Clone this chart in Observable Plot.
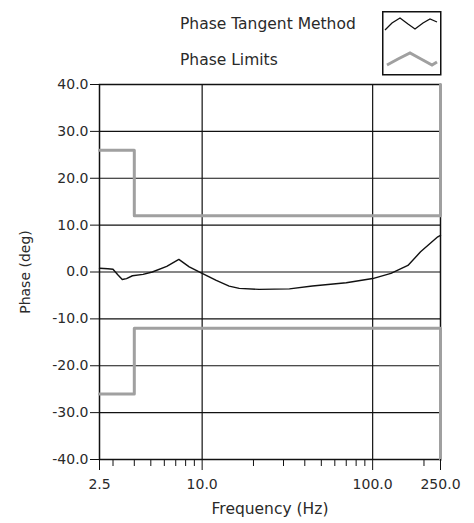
<!DOCTYPE html>
<html>
<head>
<meta charset="utf-8">
<script src="https://cdn.jsdelivr.net/npm/d3@7"></script>
<script src="https://cdn.jsdelivr.net/npm/@observablehq/plot@0.6"></script>
<style>
  html, body { margin: 0; padding: 0; background: #fff; }
  #wrap { position: relative; width: 474px; height: 523px; font-family: "DejaVu Sans", sans-serif; }
  #legend { position: absolute; left: 0; top: 0; width: 474px; height: 80px; }
  .lg-text { position: absolute; left: 180px; font-size: 15.5px; color: #2a2a2a; line-height: 18px; }
  #lg-box { position: absolute; left: 382px; top: 11px; }
</style>
</head>
<body>
<div id="wrap">
  <div id="chart"></div>
  <div id="legend">
    <div class="lg-text" style="top:15px">Phase Tangent Method</div>
    <div class="lg-text" style="top:51px">Phase Limits</div>
    <svg id="lg-box" width="60" height="65">
      <rect x="0.75" y="0.75" width="58" height="63" fill="#fff" stroke="#111" stroke-width="1.5"></rect>
      <polyline points="3,19 10,12 18,7 26,13 33,18 41,12 48,8 55,11" fill="none" stroke="#111" stroke-width="1.3"></polyline>
      <polyline points="5,54 16,48 28,42 39,48 50,54 55,51" fill="none" stroke="#a0a0a0" stroke-width="3"></polyline>
    </svg>
  </div>
</div>
<script>
// Phase Tangent Method measured curve
const freqs = [2.5, 2.8, 3.0, 3.2, 3.4, 3.6, 3.9, 4.5, 5.1, 6.2, 7.3, 8.4, 10, 12.1, 14.4, 16.5, 21.6, 32.5, 44.3, 70, 100, 128, 161, 191, 241, 250];
const phase = [0.8, 0.7, 0.6, -0.6, -1.6, -1.4, -0.8, -0.5, 0.0, 1.2, 2.7, 1.1, -0.3, -1.8, -3.0, -3.5, -3.7, -3.6, -3.0, -2.3, -1.4, -0.3, 1.4, 4.3, 7.5, 7.8];

// Phase limits (step masks)
const limitFreq = [2.5, 4, 4, 250, 250];
const upperLimit = [26, 26, 12, 12, 40];
const lowerLimit = [-26, -26, -12, -12, -40];

// Axis ticks
const xMajorTicks = [2.5, 10, 100, 250];
const xMinorTicks = [3, 4, 5, 6, 7, 8, 9, 20, 30, 40, 50, 60, 70, 80, 90, 200];
const yTicks = [-40, -30, -20, -10, 0, 10, 20, 30, 40];
const xGrid = [10, 100];

const curve = freqs.map((f, i) => ({f, p: phase[i]}));
const upper = limitFreq.map((f, i) => ({f, p: upperLimit[i]}));
const lower = limitFreq.map((f, i) => ({f, p: lowerLimit[i]}));
const fmt = d => (+d).toFixed(1);

const chart = Plot.plot({
  width: 474,
  height: 523,
  marginTop: 84,
  marginBottom: 64,
  marginLeft: 99,
  marginRight: 34,
  style: {fontFamily: "DejaVu Sans, sans-serif", fontSize: "14px", color: "#2a2a2a", background: "#fff"},
  x: {type: "log", domain: [2.5, 250]},
  y: {domain: [-40, 40]},
  marks: [
    Plot.gridY(yTicks, {stroke: "#111", strokeOpacity: 1, strokeWidth: 1.2}),
    Plot.gridX(xGrid, {stroke: "#111", strokeOpacity: 1, strokeWidth: 1.2}),
    Plot.frame({stroke: "#111", strokeWidth: 1.5}),
    Plot.line(curve, {x: "f", y: "p", stroke: "#111", strokeWidth: 1.4}),
    Plot.line(upper, {x: "f", y: "p", stroke: "#a0a0a0", strokeWidth: 3}),
    Plot.line(lower, {x: "f", y: "p", stroke: "#a0a0a0", strokeWidth: 3}),
    Plot.axisY(yTicks, {tickFormat: fmt, tickSize: 9, tickPadding: 2, fontSize: 14, label: null, stroke: "#111"}),
    Plot.axisX(xMajorTicks, {tickFormat: () => "", tickSize: 11, label: null, stroke: "#111"}),
    Plot.axisX(xMinorTicks, {tickFormat: () => "", tickSize: 7, label: null, stroke: "#111"}),
    Plot.text(xMajorTicks, {x: d => d, text: fmt, frameAnchor: "bottom", dy: 29, fontSize: 14, fill: "#2a2a2a"}),
    Plot.text(["Frequency (Hz)"], {frameAnchor: "bottom", dy: 54, fontSize: 15.5, fill: "#2a2a2a"}),
    Plot.text(["Phase (deg)"], {frameAnchor: "left", textAnchor: "middle", dx: -74, rotate: -90, fontSize: 14, fill: "#2a2a2a"})
  ]
});
document.getElementById("chart").appendChild(chart);
</script>
</body>
</html>
